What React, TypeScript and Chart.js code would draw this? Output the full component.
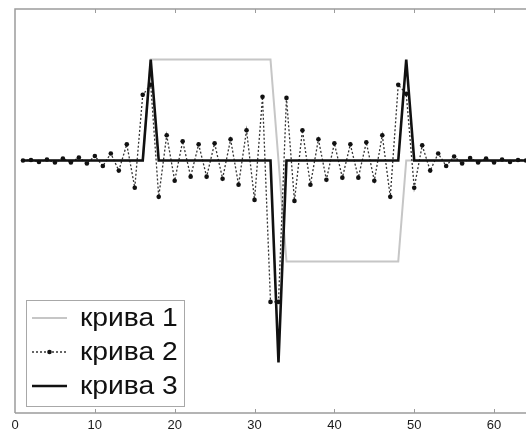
import React, { useEffect, useRef } from 'react';
import { Chart, registerables } from 'chart.js';

Chart.register(...registerables);

const xIndex = [
  1, 2, 3, 4, 5, 6, 7, 8, 9, 10, 11, 12, 13, 14, 15, 16,
  17, 18, 19, 20, 21, 22, 23, 24, 25, 26, 27, 28, 29, 30, 31, 32,
  33, 34, 35, 36, 37, 38, 39, 40, 41, 42, 43, 44, 45, 46, 47, 48,
  49, 50, 51, 52, 53, 54, 55, 56, 57, 58, 59, 60, 61, 62, 63, 64,
];

const curve1 = [
  0, 0, 0, 0, 0, 0, 0, 0, 0, 0, 0, 0, 0, 0, 0, 0,
  1, 1, 1, 1, 1, 1, 1, 1, 1, 1, 1, 1, 1, 1, 1, 1,
  0, -1, -1, -1, -1, -1, -1, -1, -1, -1, -1, -1, -1, -1, -1, -1,
  0, 0, 0, 0, 0, 0, 0, 0, 0, 0, 0, 0, 0, 0, 0, 0,
];

const curve2 = [
  0, 0.005, -0.015, 0.01, -0.02, 0.02, -0.02, 0.03, -0.03, 0.045, -0.055, 0.07, -0.1, 0.16, -0.27, 0.65,
  0.75, -0.36, 0.25, -0.2, 0.19, -0.16, 0.16, -0.16, 0.17, -0.18, 0.21, -0.24, 0.3, -0.39, 0.63, -1.4,
  -1.4, 0.62, -0.4, 0.3, -0.24, 0.21, -0.19, 0.17, -0.17, 0.16, -0.17, 0.18, -0.2, 0.25, -0.36, 0.75,
  0.66, -0.27, 0.15, -0.1, 0.07, -0.055, 0.04, -0.03, 0.025, -0.02, 0.02, -0.02, 0.01, -0.015, 0.005, 0,
];

const curve3 = [
  0, 0, 0, 0, 0, 0, 0, 0, 0, 0, 0, 0, 0, 0, 0, 0,
  1, 0, 0, 0, 0, 0, 0, 0, 0, 0, 0, 0, 0, 0, 0, 0,
  -2, 0, 0, 0, 0, 0, 0, 0, 0, 0, 0, 0, 0, 0, 0, 0,
  1, 0, 0, 0, 0, 0, 0, 0, 0, 0, 0, 0, 0, 0, 0, 0,
];

const xTicks = [0, 10, 20, 30, 40, 50, 60];
const seriesNames = ['крива 1', 'крива 2', 'крива 3'];

const FONT = '"Liberation Sans", Arial, Helvetica, sans-serif';
const FRAME = '#9c9c9c';

const toPoints = (vals: number[]) => vals.map((v, i) => ({ x: xIndex[i], y: v }));

const framePlugin = {
  id: 'frameAndTicks',
  beforeDatasetsDraw(chart: any) {
    const { ctx, chartArea, scales } = chart;
    const { left, right, top, bottom } = chartArea;
    ctx.save();
    ctx.strokeStyle = FRAME;
    ctx.lineWidth = 1.5;
    ctx.beginPath();
    ctx.moveTo(left, bottom);
    ctx.lineTo(left, top);
    ctx.lineTo(right, top);
    ctx.moveTo(left, bottom);
    ctx.lineTo(right, bottom);
    ctx.stroke();
    ctx.lineWidth = 1;
    ctx.beginPath();
    for (const t of xTicks) {
      if (t === 0) continue;
      const px = Math.round(scales.x.getPixelForValue(t)) + 0.5;
      ctx.moveTo(px, bottom);
      ctx.lineTo(px, bottom - 4);
      ctx.moveTo(px, top);
      ctx.lineTo(px, top + 4);
    }
    ctx.stroke();
    ctx.restore();
  },
  afterDraw(chart: any) {
    const { ctx, chartArea } = chart;
    const { left, bottom } = chartArea;
    const boxLeft = left + 11;
    const boxW = 158;
    const boxH = 106;
    const boxTop = bottom - 7 - boxH;
    ctx.save();
    ctx.fillStyle = '#ffffff';
    ctx.fillRect(boxLeft, boxTop, boxW, boxH);
    ctx.strokeStyle = '#a8a8a8';
    ctx.lineWidth = 1;
    ctx.strokeRect(boxLeft + 0.5, boxTop + 0.5, boxW, boxH);
    const datasets = chart.data.datasets;
    for (let i = 0; i < datasets.length; i++) {
      const ds = datasets[i];
      const cy = boxTop + 18 + i * 34;
      const x0 = boxLeft + 6;
      const x1 = boxLeft + 41;
      ctx.beginPath();
      ctx.strokeStyle = ds.borderColor;
      ctx.lineWidth = ds.borderWidth;
      ctx.setLineDash(ds.borderDash || []);
      ctx.moveTo(x0, cy);
      ctx.lineTo(x1, cy);
      ctx.stroke();
      ctx.setLineDash([]);
      if (ds.pointRadius > 0) {
        ctx.beginPath();
        ctx.fillStyle = ds.pointBackgroundColor;
        ctx.arc((x0 + x1) / 2, cy, ds.pointRadius, 0, Math.PI * 2);
        ctx.fill();
      }
      ctx.save();
      ctx.translate(boxLeft + 54, cy + 1);
      ctx.scale(1.13, 1);
      ctx.fillStyle = '#111111';
      ctx.font = `25px ${FONT}`;
      ctx.textBaseline = 'middle';
      ctx.textAlign = 'left';
      ctx.fillText(ds.label, 0, 0);
      ctx.restore();
    }
    ctx.restore();
  },
};

export default function App() {
  const canvasRef = useRef<HTMLCanvasElement | null>(null);

  useEffect(() => {
    if (!canvasRef.current) return;
    const chart = new Chart(canvasRef.current, {
      type: 'line',
      data: {
        datasets: [
          {
            label: seriesNames[0],
            data: toPoints(curve1),
            borderColor: '#c6c6c6',
            borderWidth: 2,
            pointRadius: 0,
            tension: 0,
            order: 3,
          } as any,
          {
            label: seriesNames[1],
            data: toPoints(curve2),
            borderColor: '#333333',
            borderWidth: 1.3,
            borderDash: [2, 2],
            pointRadius: 2.3,
            pointBackgroundColor: '#111111',
            pointBorderWidth: 0,
            tension: 0,
            order: 2,
          },
          {
            label: seriesNames[2],
            data: toPoints(curve3),
            borderColor: '#111111',
            borderWidth: 2.6,
            pointRadius: 0,
            tension: 0,
            order: 1,
          },
        ],
      },
      options: {
        responsive: false,
        animation: false,
        layout: { autoPadding: false, padding: { left: 15, top: 9, right: 0, bottom: 0 } },
        plugins: {
          legend: { display: false },
          tooltip: { enabled: false },
        },
        scales: {
          x: {
            type: 'linear',
            min: 0,
            max: 64,
            grid: { display: false, drawTicks: false },
            border: { display: false },
            afterFit: (scale: any) => {
              scale.height = 21;
            },
            afterBuildTicks: (scale: any) => {
              scale.ticks = xTicks.map((v) => ({ value: v }));
            },
            ticks: {
              autoSkip: false,
              maxRotation: 0,
              padding: 5,
              color: '#1a1a1a',
              font: { family: FONT, size: 13 },
            },
          },
          y: {
            type: 'linear',
            min: -2.5,
            max: 1.5,
            display: false,
          },
        },
      },
      plugins: [framePlugin],
    });
    return () => chart.destroy();
  }, []);

  return (
    <div style={{ position: 'absolute', left: 0, top: 0, width: 526, height: 434, background: '#fff' }}>
      <canvas ref={canvasRef} width={526} height={434} style={{ display: 'block' }} />
    </div>
  );
}
